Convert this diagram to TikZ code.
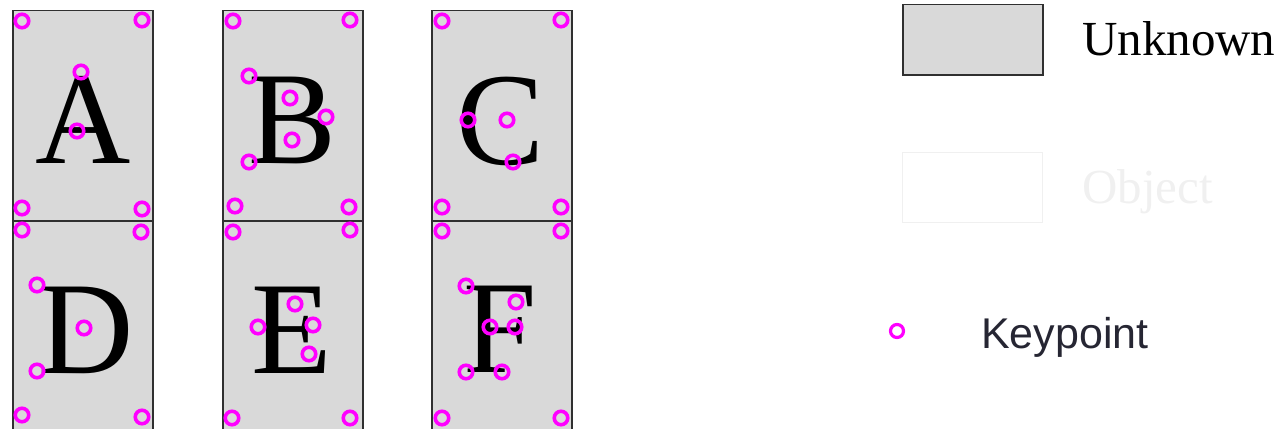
\documentclass[tikz,border=0pt]{standalone}
\usepackage{fontspec}
\setmainfont{Liberation Serif}
\newfontfamily\kpfont{Liberation Sans}
\definecolor{unkgray}{HTML}{D9D9D9}
\definecolor{panelborder}{HTML}{303030}
\definecolor{kpmag}{HTML}{FF00FF}
\definecolor{objgray}{HTML}{F0F0F0}
\definecolor{kptext}{HTML}{262633}
\tikzset{
  panel/.style={draw=panelborder, line width=1.5pt, fill=unkgray, anchor=north west,
    minimum width=140pt, minimum height=210pt, inner sep=0pt},
  kp/.style={circle, draw=kpmag, line width=3.6pt, minimum size=13.5pt, inner sep=0pt},
  letter/.style={anchor=base, inner sep=0pt, font=\fontsize{132}{140}\selectfont},
}
\begin{document}
\begin{tikzpicture}[x=1pt,y=-1pt]
\useasboundingbox (0,0) rectangle (1281,428);
\clip (0,0) rectangle (1281,428);
% panels
\node[panel] (pA) at (12,10) {};
\node[panel] (pB) at (222,10) {};
\node[panel] (pC) at (431,10) {};
\node[panel] (pD) at (12,220) {};
\node[panel] (pE) at (222,220) {};
\node[panel] (pF) at (431,220) {};
% letters
\node[letter] (lA) at (83,163) {A};
\node[letter] (lB) at (293,163) {B};
\node[letter] (lC) at (501,164) {C};
\node[letter] (lD) at (86,373) {D};
\node[letter] (lE) at (292,373) {E};
\node[letter] (lF) at (500,372) {F};
% corner keypoints
\foreach \n/\x/\y in {a1/22/21, a2/142/20, a3/22/208, a4/142/209,
  b1/233/21, b2/350/20, b3/235/206, b4/349/207,
  c1/442/21, c2/561/20, c3/442/207, c4/561/207,
  d1/22/230, d2/141/232, d3/22/415, d4/142/417,
  e1/233/232, e2/350/230, e3/232/418, e4/350/418,
  f1/442/231, f2/561/231, f3/442/418, f4/561/418}
  \node[kp] (k\n) at (\x,\y) {};
% letter keypoints
\foreach \n/\x/\y in {A1/81/72, A2/77/131,
  B1/249/76, B2/290/98, B3/326/117, B4/292/140, B5/249/162,
  C1/468/120, C2/507/120, C3/513/162,
  D1/37/285, D2/84/328, D3/37/371,
  E1/258/327, E2/295/304, E3/313/325, E4/309/354,
  F1/466/286, F2/516/302, F3/490/327, F4/515/327, F5/466/372, F6/502/372}
  \node[kp] (k\n) at (\x,\y) {};
% legend
\node[draw=panelborder, line width=1.5pt, fill=unkgray, anchor=north west,
  minimum width=140pt, minimum height=70pt, inner sep=0pt] (legU) at (902,4) {};
\node[anchor=base west, inner sep=0pt, font=\fontsize{49}{55}\selectfont] (legUt) at (1082,56) {Unknown};
\node[draw=objgray, line width=1.2pt, fill=white, anchor=north west,
  minimum width=140pt, minimum height=70pt, inner sep=0pt] (legO) at (902,152) {};
\node[anchor=base west, inner sep=0pt, text=objgray, font=\fontsize{49}{55}\selectfont] (legOt) at (1082,203) {Object};
\node[kp, line width=3.2pt, minimum size=13pt] (legK) at (897,331) {};
\node[anchor=base west, inner sep=0pt, text=kptext, font=\kpfont\fontsize{43}{50}\selectfont] (legKt) at (981,348) {Keypoint};
\end{tikzpicture}
\end{document}
